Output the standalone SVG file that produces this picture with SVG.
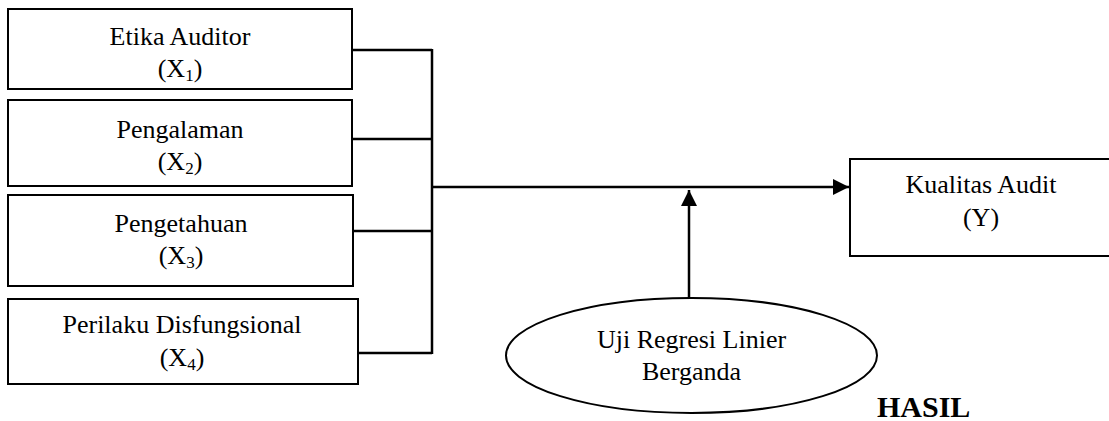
<svg xmlns="http://www.w3.org/2000/svg" width="1109" height="421" viewBox="0 0 1109 421">
<style>
.box{fill:#fff;stroke:#000;stroke-width:2}
.ln{fill:none;stroke:#000;stroke-width:2.5}
.t{font-family:"Liberation Serif","Times New Roman",serif;font-size:26px;fill:#000;text-anchor:middle}
.s{font-size:17px}
.h{font-family:"Liberation Serif","Times New Roman",serif;font-size:30px;font-weight:bold;fill:#000}
</style>
<defs>
<marker id="arr" markerUnits="userSpaceOnUse" markerWidth="18" markerHeight="16" refX="16" refY="8" orient="auto">
<path d="M0,0 L16,8 L0,16 Z" fill="#000"/>
</marker>
</defs>
<rect width="1109" height="421" fill="#fff"/>
<g id="connectors">
<path class="ln" d="M352,50 H432 M352,139 H432 M353,231 H432 M358,353 H432 M432,49 V354"/>
<path class="ln" d="M432,187 H849" marker-end="url(#arr)"/>
<path class="ln" d="M689,298 V190" marker-end="url(#arr)"/>
</g>
<g id="x1">
<rect class="box" x="8" y="9" width="344" height="80"/>
<text class="t" x="180" y="45">Etika Auditor</text>
<text class="t" x="180" y="77">(X<tspan class="s" dy="4">1</tspan><tspan dy="-4">)</tspan></text>
</g>
<g id="x2">
<rect class="box" x="8" y="100" width="344" height="86"/>
<text class="t" x="180" y="138">Pengalaman</text>
<text class="t" x="180" y="170">(X<tspan class="s" dy="4">2</tspan><tspan dy="-4">)</tspan></text>
</g>
<g id="x3">
<rect class="box" x="8" y="195" width="345" height="91"/>
<text class="t" x="181" y="232">Pengetahuan</text>
<text class="t" x="181" y="264">(X<tspan class="s" dy="4">3</tspan><tspan dy="-4">)</tspan></text>
</g>
<g id="x4">
<rect class="box" x="8" y="299" width="350" height="85"/>
<text class="t" x="182" y="333">Perilaku Disfungsional</text>
<text class="t" x="182" y="366">(X<tspan class="s" dy="4">4</tspan><tspan dy="-4">)</tspan></text>
</g>
<g id="y">
<rect class="box" x="850" y="159" width="270" height="97"/>
<text class="t" x="981" y="193">Kualitas Audit</text>
<text class="t" x="981" y="226">(Y)</text>
</g>
<g id="uji">
<ellipse class="box" cx="691.5" cy="355.5" rx="185.5" ry="57.5"/>
<text class="t" x="691.5" y="348">Uji Regresi Linier</text>
<text class="t" x="691.5" y="380">Berganda</text>
</g>
<text class="h" x="877" y="417">HASIL</text>
</svg>
